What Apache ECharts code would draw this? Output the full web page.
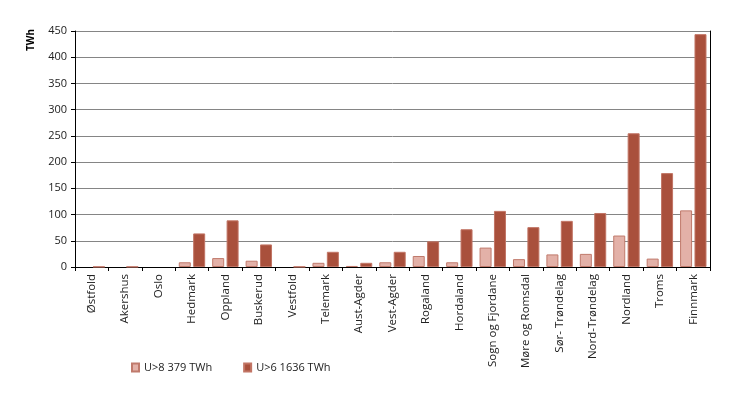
<!DOCTYPE html>
<html><head><meta charset="utf-8">
<script src="https://cdn.jsdelivr.net/npm/echarts@6/dist/echarts.min.js"></script>
<style>html,body{margin:0;padding:0;background:#fff}#c{width:730px;height:393px}</style>
</head><body><div id="c"></div>
<script>
var categories = ["Østfold","Akershus","Oslo","Hedmark","Oppland","Buskerud","Vestfold","Telemark","Aust-Agder","Vest-Agder","Rogaland","Hordaland","Sogn og Fjordane","Møre og Romsdal","Sør- Trøndelag","Nord-Trøndelag","Nordland","Troms","Finnmark"];
var u8 = [0, 0, 0, 9, 17, 12, 0, 8, 2, 9, 21, 9, 37, 15, 24, 25, 60, 16, 108];
var u6 = [0.5, 0.5, 0, 64, 89, 43, 0.5, 29, 8, 29, 49, 72, 107, 76, 88, 103, 255, 179, 444];
var seriesNames = ["U>8 379 TWh", "U>6 1636 TWh"];
var yTicks = {min: 0, max: 450, interval: 50};
var yTitle = "TWh";

function hideZero(arr) { return arr.map(function (v) { return v === 0 ? null : v; }); }

var font = "'Open Sans', 'Noto Sans', sans-serif";
var chart = echarts.init(document.getElementById('c'), null, {renderer: 'canvas'});
chart.setOption({
  animation: false,
  textStyle: {fontFamily: font},
  grid: {left: 75, right: 20, top: 31, bottom: 126},
  graphic: [{
    type: 'text', left: 26, top: 29, rotation: Math.PI / 2,
    style: {text: yTitle, fontSize: 10, fontWeight: 'bold', fill: '#000', fontFamily: font}
  }],
  legend: {
    left: 126, top: 357, itemWidth: 7, itemHeight: 8, itemGap: 31,
    icon: 'rect',
    textStyle: {fontSize: 11, color: '#222', fontFamily: font},
    data: seriesNames
  },
  xAxis: {
    type: 'category', data: categories,
    axisLine: {lineStyle: {color: '#000', width: 1}},
    axisTick: {show: true, alignWithLabel: false, length: 4, lineStyle: {color: '#000'}},
    axisLabel: {rotate: 90, fontSize: 11.5, color: '#222', margin: 7, interval: 0}
  },
  yAxis: [{
    type: 'value', min: yTicks.min, max: yTicks.max, interval: yTicks.interval,
    axisLine: {show: true, lineStyle: {color: '#000'}},
    axisTick: {show: true, length: 4, lineStyle: {color: '#000'}},
    axisLabel: {fontSize: 11, color: '#222', margin: 8},
    splitLine: {show: true, lineStyle: {color: '#858585', width: 1}}
  }, {
    type: 'value', min: yTicks.min, max: yTicks.max, interval: yTicks.interval, position: 'right',
    axisLine: {show: true, lineStyle: {color: '#000'}},
    axisTick: {show: false},
    axisLabel: {show: false}, splitLine: {show: false}
  }],
  series: [{
    name: seriesNames[0], type: 'bar', data: hideZero(u8), barWidth: 12, barGap: '20%',
    itemStyle: {color: '#e3b1a8', borderColor: '#c07a6c', borderWidth: 1}
  }, {
    name: seriesNames[1], type: 'bar', data: hideZero(u6), barWidth: 12,
    itemStyle: {color: '#a9503c', borderColor: '#c27565', borderWidth: 1}
  }]
});
</script></body></html>
